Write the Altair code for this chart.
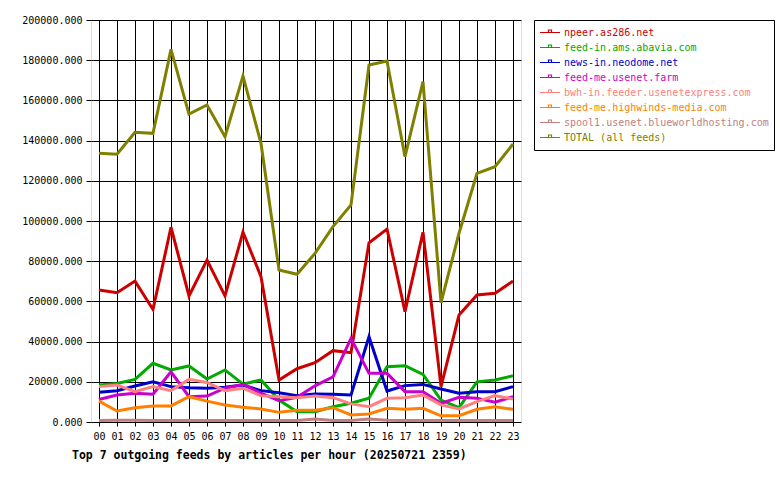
import altair as alt
import pandas as pd

hours = [f"{h:02d}" for h in range(24)]

series_names = [
    "npeer.as286.net",
    "feed-in.ams.abavia.com",
    "news-in.neodome.net",
    "feed-me.usenet.farm",
    "bwh-in.feeder.usenetexpress.com",
    "feed-me.highwinds-media.com",
    "spool1.usenet.blueworldhosting.com",
    "TOTAL (all feeds)",
]
series_colors = ["#cc0000", "#00aa00", "#0000cc", "#cc00cc", "#ff8080", "#ff8000", "#c08080", "#808000"]

npeer = [65700, 64300, 70100, 56000, 96900, 62700, 80600, 62700, 94500, 72300, 20900, 26500,
         29500, 35500, 34500, 89200, 96000, 54900, 94400, 17600, 53200, 63200, 64000, 70100]
abavia = [18400, 19200, 21200, 29200, 25900, 27900, 21400, 25900, 18800, 20900, 10900, 5100,
          5100, 7600, 9300, 11800, 27500, 28000, 23700, 10900, 7100, 20000, 20900, 23000]
neodome = [14800, 15600, 17900, 20000, 17600, 17100, 16800, 17300, 18400, 15600, 14600, 13100,
           13900, 13800, 13400, 42400, 15400, 18100, 18700, 16400, 14300, 15100, 15100, 17600]
usenetfarm = [11200, 13400, 14300, 13800, 25000, 12600, 12900, 16800, 18800, 14300, 10600, 12300,
              18000, 22500, 41600, 24200, 24200, 15100, 15100, 9300, 12300, 11800, 9800, 12600]
usenetexpress = [17600, 18400, 15100, 17600, 15600, 21200, 19700, 15600, 16800, 13100, 12600, 12100,
                 12900, 12100, 9000, 7600, 11800, 12100, 13400, 8500, 6500, 10100, 13100, 11400]
highwinds = [10400, 5500, 7100, 8000, 8000, 12600, 10400, 8500, 7300, 6500, 4800, 5800,
             5800, 7100, 3500, 4000, 6800, 6300, 6800, 3100, 3100, 6300, 7600, 6300]
blueworld = [700, 900, 900, 700, 700, 700, 700, 700, 700, 700, 700, 800,
             1500, 800, 800, 1500, 900, 700, 700, 700, 700, 700, 700, 700]
total = [133700, 133200, 144100, 143600, 185400, 153200, 157700, 141900, 172100, 138600, 75600, 73500,
         83900, 97200, 108000, 177600, 179600, 132000, 169300, 59400, 93900, 123700, 127000, 138300]

all_values = [npeer, abavia, neodome, usenetfarm, usenetexpress, highwinds, blueworld, total]

rows = []
for order, (name, vals) in enumerate(zip(series_names, all_values)):
    for h, v in zip(hours, vals):
        rows.append({"hour": h, "articles": v, "feed": name, "order": order})
df = pd.DataFrame(rows)

mono = "DejaVu Sans Mono"

chart = alt.Chart(df).mark_line(strokeWidth=3, strokeJoin="miter", clip=True).encode(
    x=alt.X(
        "hour:O",
        scale=alt.Scale(type="point", padding=0.444, domain=hours),
        axis=alt.Axis(
            title=None, labelAngle=0, grid=True, gridColor="black", gridOpacity=1, gridWidth=1,
            domain=False, tickColor="black", tickSize=4, labelFont=mono, labelFontSize=10,
            labelColor="black", labelPadding=5,
        ),
    ),
    y=alt.Y(
        "articles:Q",
        scale=alt.Scale(domain=[0, 200000], nice=False, zero=True),
        axis=alt.Axis(
            title=None, values=list(range(0, 200001, 20000)), format=".3f", grid=True,
            gridColor="black", gridOpacity=1, gridWidth=1, domain=False, tickColor="black",
            tickSize=5, labelFont=mono, labelFontSize=10, labelColor="black", labelPadding=4,
        ),
    ),
    color=alt.Color(
        "feed:N",
        scale=alt.Scale(domain=series_names, range=series_colors),
        legend=alt.Legend(
            title=None, orient="none", legendX=443, legendY=0, strokeColor="black",
            fillColor="white", padding=5, labelFont=mono, labelFontSize=10,
            labelColor=alt.ExprRef(expr="scale('color', datum.value)"),
            symbolType="M-1,0H1M-0.15,0V-0.25H0.15V0", symbolSize=400, symbolStrokeWidth=1.2,
            symbolFillColor="transparent", clipHeight=15, rowPadding=0, labelOffset=3,
            labelLimit=400,
        ),
    ),
    order=alt.Order("order:Q"),
    detail="feed:N",
).properties(
    width=430,
    height=402,
    title=alt.TitleParams(
        "Top 7 outgoing feeds by articles per hour (20250721 2359)",
        orient="bottom", anchor="start", frame="group", dx=-19, offset=9, font=mono,
        fontSize=11.5, fontWeight="bold", color="black",
    ),
    autosize=alt.AutoSizeParams(type="none"),
    padding={"left": 91, "top": 20, "right": 259, "bottom": 58},
).configure_view(
    fill="#e0e0e0", stroke="black", strokeWidth=1.5
).configure(background="white")

chart.save("out.html", embed_options={"renderer": "svg", "actions": False})
